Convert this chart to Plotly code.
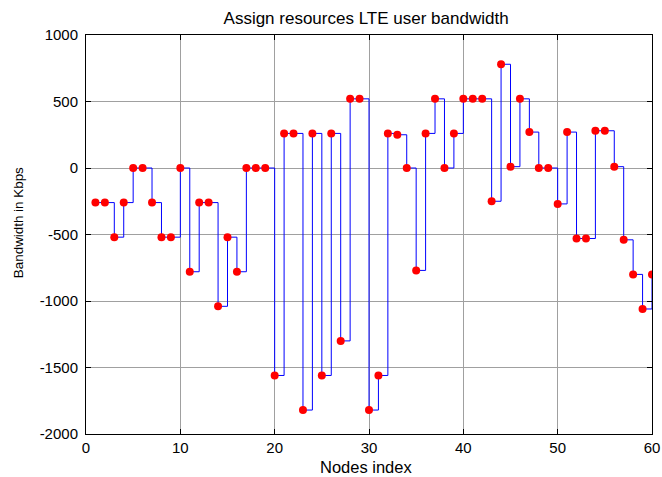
import plotly.graph_objects as go

nodes = list(range(1, 61))
bandwidth = [-260, -260, -520, -260, 0, 0, -260, -520, -520, 0,
             -780, -260, -260, -1040, -520, -780, 0, 0, 0, -1560,
             260, 260, -1820, 260, -1560, 260, -1300, 520, 520, -1820,
             -1560, 260, 250, 0, -770, 260, 520, 0, 260, 520,
             520, 520, -250, 780, 10, 520, 270, 0, 0, -270,
             270, -530, -530, 280, 280, 10, -540, -800, -1060, -800]

x_ticks = [0, 10, 20, 30, 40, 50, 60]
y_ticks = [-2000, -1500, -1000, -500, 0, 500, 1000]
y_tick_labels = ["-2000", "-1500", "-1000", "-500", "0", "500", "1000"]

FONT = "Liberation Sans, Arial, sans-serif"

fig = go.Figure()
fig.add_trace(go.Scatter(x=nodes, y=bandwidth, mode="lines", line_shape="hv",
                         line=dict(color="#0000ff", width=1), hoverinfo="skip"))
fig.add_trace(go.Scatter(x=nodes, y=bandwidth, mode="markers",
                         marker=dict(color="#ff0000", size=8)))

axis_common = dict(showgrid=True, gridcolor="#a0a0a0", gridwidth=1,
                   showline=True, linecolor="black", linewidth=1, mirror="ticks",
                   ticks="inside", ticklen=5, tickcolor="black", zeroline=False,
                   automargin=False, ticklabeloverflow="allow",
                   tickfont=dict(family=FONT, size=15, color="black"))

fig.update_layout(
    width=662, height=477,
    margin=dict(l=86, r=10, t=35, b=43, autoexpand=False),
    paper_bgcolor="white", plot_bgcolor="white",
    showlegend=False,
    font=dict(family=FONT, size=15, color="black"),
    title=dict(text="Assign resources LTE user bandwidth", x=0.553, xanchor="center",
               y=0.963, yanchor="middle", font=dict(size=17), automargin=False),
    xaxis=dict(range=[0, 60], tickvals=x_ticks, **axis_common),
    yaxis=dict(range=[-2000, 1000], tickvals=y_ticks, ticktext=y_tick_labels,
               ticklabelstandoff=4, **axis_common),
    annotations=[
        dict(text="Nodes index", xref="paper", yref="paper", x=0.495, y=-0.0827,
             xanchor="center", yanchor="middle", showarrow=False,
             font=dict(family=FONT, size=16.5, color="black")),
        dict(text="Bandwidth in Kbps", xref="paper", yref="paper", x=-0.118, y=0.529,
             xanchor="center", yanchor="middle", textangle=-90, showarrow=False,
             font=dict(family=FONT, size=13.4, color="black")),
    ],
)

fig.write_html("out.html", config={"displayModeBar": False},
               post_script="document.body.style.margin='0';document.body.style.overflow='hidden';")
